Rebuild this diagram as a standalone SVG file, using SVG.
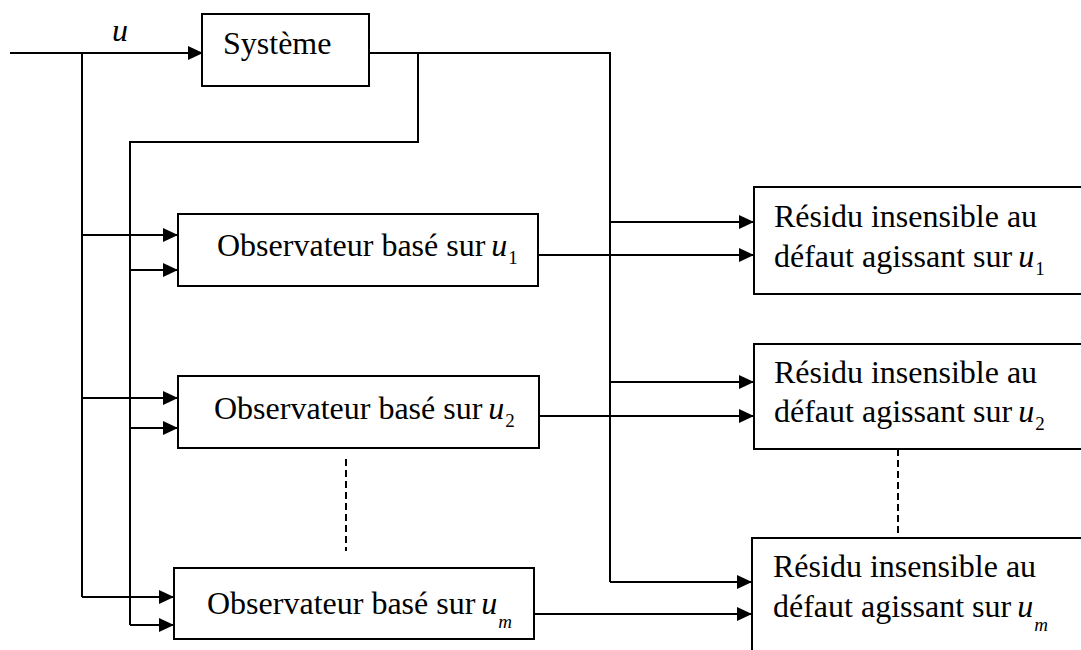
<svg xmlns="http://www.w3.org/2000/svg" width="1081" height="650" viewBox="0 0 1081 650">
<defs>
<marker id="arr" markerUnits="userSpaceOnUse" markerWidth="15" markerHeight="14" refX="15" refY="7" orient="auto">
<path d="M0,0 L15,7 L0,14 z" fill="#000"/>
</marker>
<style>
.box{fill:#fff;stroke:#000;stroke-width:2}
.ln{fill:none;stroke:#000;stroke-width:2}
.ar{fill:none;stroke:#000;stroke-width:2;marker-end:url(#arr)}
.dash{fill:none;stroke:#000;stroke-width:2;stroke-dasharray:7 4}
text{font-family:'Liberation Serif','DejaVu Serif',serif;font-size:32px;fill:#000}
.it{font-style:italic}
.sub{font-size:19px}
.subi{font-size:19px;font-style:italic}
</style>
</defs>
<rect width="1081" height="650" fill="#fff"/>
<g id="connectors">
<path class="ar" d="M10,53 H203"/>
<path class="ln" d="M82,53 V597"/>
<path class="ar" d="M82,235 H178"/>
<path class="ar" d="M82,398 H178"/>
<path class="ar" d="M82,597 H174"/>
<path class="ln" d="M369,53 H610 V582"/>
<path class="ln" d="M418,53 V142 H130 V625"/>
<path class="ar" d="M130,270 H178"/>
<path class="ar" d="M130,428 H178"/>
<path class="ar" d="M130,625 H174"/>
<path class="ar" d="M610,222 H754"/>
<path class="ar" d="M610,382 H754"/>
<path class="ar" d="M610,582 H752"/>
<path class="ar" d="M538,255 H754"/>
<path class="ar" d="M539,416 H754"/>
<path class="ar" d="M534,614 H752"/>
<path class="dash" d="M346,459 V551"/>
<path class="dash" d="M898,449 V537"/>
<text class="it" x="112" y="41">u</text>
</g>
<g id="systeme">
<rect class="box" x="202" y="14" width="167" height="72"/>
<text x="223" y="54">Système</text>
</g>
<g id="obs1">
<rect class="box" x="178" y="214" width="360" height="72"/>
<text x="217" y="256">Observateur basé sur<tspan class="it" dx="6">u</tspan><tspan class="sub" dx="1" dy="8">1</tspan></text>
</g>
<g id="obs2">
<rect class="box" x="178" y="376" width="361" height="72"/>
<text x="214" y="419">Observateur basé sur<tspan class="it" dx="6">u</tspan><tspan class="sub" dx="1" dy="8">2</tspan></text>
</g>
<g id="obsm">
<rect class="box" x="174" y="568" width="360" height="71"/>
<text x="207" y="614">Observateur basé sur<tspan class="it" dx="6">u</tspan><tspan class="subi" dx="1" dy="14">m</tspan></text>
</g>
<g id="res1">
<rect class="box" x="754" y="187" width="340" height="107"/>
<text x="774" y="227">Résidu insensible au</text>
<text x="774" y="267">défaut agissant sur<tspan class="it" dx="6">u</tspan><tspan class="sub" dx="1" dy="8">1</tspan></text>
</g>
<g id="res2">
<rect class="box" x="754" y="344" width="340" height="105"/>
<text x="774" y="383">Résidu insensible au</text>
<text x="774" y="422">défaut agissant sur<tspan class="it" dx="6">u</tspan><tspan class="sub" dx="1" dy="8">2</tspan></text>
</g>
<g id="resm">
<rect class="box" x="752" y="538" width="340" height="150"/>
<text x="773" y="577">Résidu insensible au</text>
<text x="773" y="617">défaut agissant sur<tspan class="it" dx="6">u</tspan><tspan class="subi" dx="1" dy="14">m</tspan></text>
</g>
</svg>
